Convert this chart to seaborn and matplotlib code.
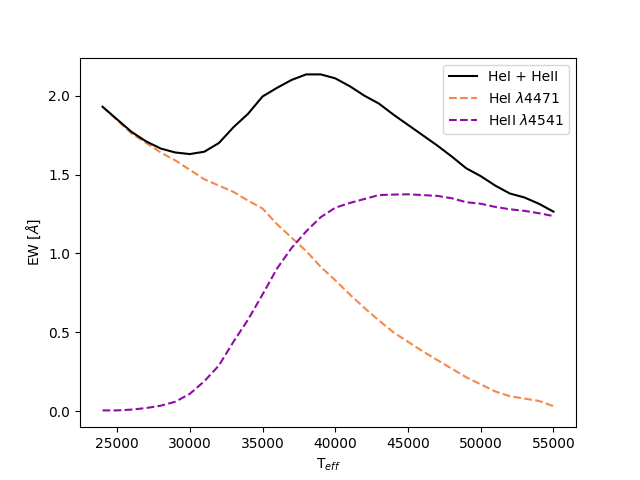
import pandas as pd
import seaborn as sns
import matplotlib
matplotlib.use("Agg")
import matplotlib.pyplot as plt

teff = list(range(24000, 56000, 1000))

# equivalent widths
ew_total = [1.93, 1.85, 1.77, 1.71, 1.665, 1.64, 1.63, 1.645, 1.70, 1.80, 1.885, 1.995,
            2.05, 2.10, 2.135, 2.135, 2.11, 2.06, 2.00, 1.95, 1.88, 1.815, 1.75, 1.685,
            1.615, 1.54, 1.49, 1.43, 1.38, 1.355, 1.315, 1.265]
ew_hei = [1.93, 1.845, 1.76, 1.70, 1.64, 1.59, 1.53, 1.47, 1.43, 1.39, 1.335, 1.285,
          1.185, 1.10, 1.015, 0.915, 0.83, 0.74, 0.655, 0.575, 0.50, 0.44, 0.38, 0.325,
          0.27, 0.215, 0.17, 0.125, 0.095, 0.08, 0.065, 0.032]
ew_heii = [0.005, 0.005, 0.01, 0.02, 0.035, 0.06, 0.11, 0.19, 0.29, 0.44, 0.58, 0.74,
           0.905, 1.035, 1.14, 1.23, 1.29, 1.32, 1.345, 1.37, 1.373, 1.375, 1.37, 1.365,
           1.35, 1.325, 1.315, 1.295, 1.28, 1.27, 1.255, 1.237]

df = pd.DataFrame({'teff': teff, 'total': ew_total, 'hei': ew_hei, 'heii': ew_heii})

fig, ax = plt.subplots(figsize=(6.4, 4.8), dpi=100)
sns.lineplot(data=df, x='teff', y='total', color='black', label='HeI + HeII', ax=ax, zorder=3)
sns.lineplot(data=df, x='teff', y='hei', color='#f5884b', linestyle='--',
             label=r'HeI $\lambda$4471', ax=ax, zorder=2)
sns.lineplot(data=df, x='teff', y='heii', color='#8f0da5', linestyle='--',
             label=r'HeII $\lambda$4541', ax=ax, zorder=2)

ax.set_xlabel(r'T$_{eff}$')
ax.set_ylabel(r'EW [$\AA$]')
ax.set_xticks([25000, 30000, 35000, 40000, 45000, 50000, 55000])
ax.set_yticks([0.0, 0.5, 1.0, 1.5, 2.0])
ax.legend(loc='upper right')

fig.savefig('out.png', dpi=100)
